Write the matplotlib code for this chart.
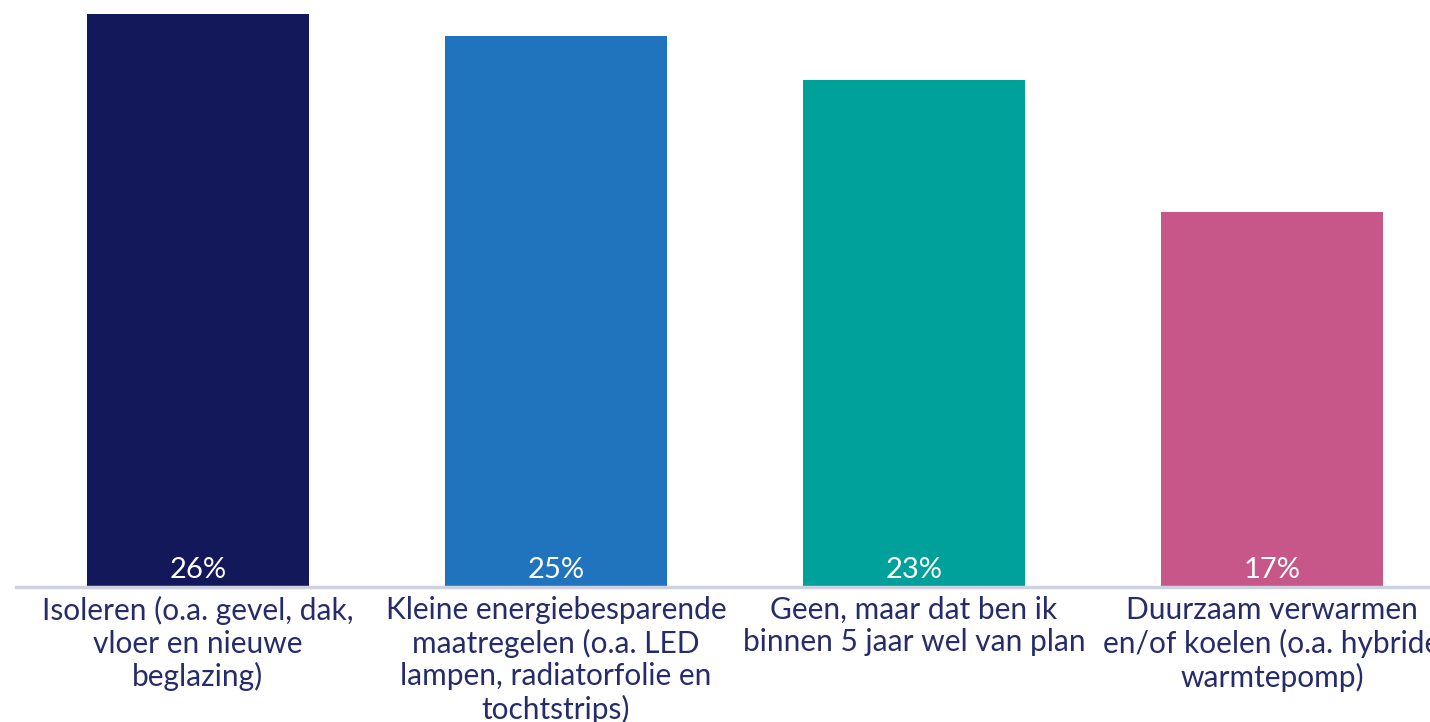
import matplotlib
matplotlib.use("Agg")
import matplotlib.pyplot as plt

# ---------------- DATA ----------------
categories = [
    "Isoleren (o.a. gevel, dak,\nvloer en nieuwe\nbeglazing)",
    "Kleine energiebesparende\nmaatregelen (o.a. LED\nlampen, radiatorfolie en\ntochtstrips)",
    "Geen, maar dat ben ik\nbinnen 5 jaar wel van plan",
    "Duurzaam verwarmen\nen/of koelen (o.a. hybride\nwarmtepomp)",
]
values = [26, 25, 23, 17]
colors = ["#12185A", "#1F74BD", "#00A19A", "#C75689"]

plt.rcParams['font.family'] = ['Lato', 'DejaVu Sans']

fig = plt.figure(figsize=(14.3, 7.22), dpi=100)
ax = fig.add_axes([0, 135 / 722, 1, 587 / 722])

x = list(range(len(values)))
bars = ax.bar(x, values, width=0.62, color=colors, zorder=2)

ax.set_xlim(-198 / 358, (1430 - 198) / 358)
ax.set_ylim(0, 587 / 22.04)

# value labels inside the bars
for xi, v in zip(x, values):
    ax.text(xi, 0.2, f"{v}%", ha="center", va="bottom", color="white",
            fontsize=21)

# category labels under the axis (the last one runs off the right edge, as in the original)
for xi, lab in zip(x, categories):
    ax.text(xi, -0.4, lab, ha="center", va="top", color="#262C6A",
            fontsize=21.5, linespacing=1.2, clip_on=False)

for s in ["top", "left", "right"]:
    ax.spines[s].set_visible(False)
ax.spines["bottom"].set_color("#CFD0E0")
ax.spines["bottom"].set_linewidth(2.5)
ax.spines["bottom"].set_bounds(-182 / 358, (1430 - 198) / 358)
ax.set_xticks([])
ax.set_yticks([])

fig.savefig("out.png", dpi=100)
